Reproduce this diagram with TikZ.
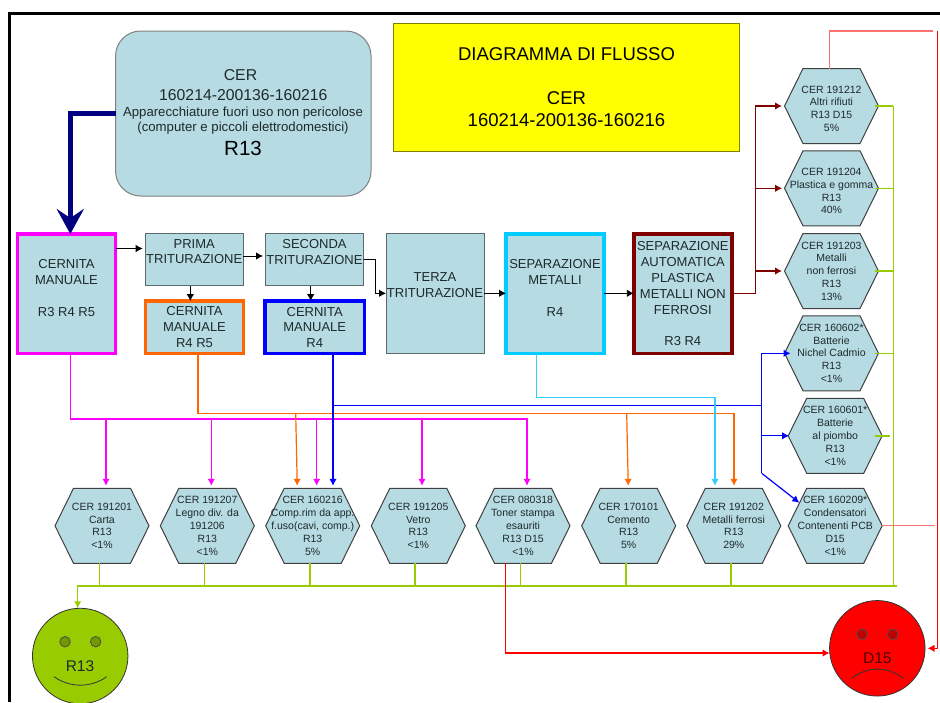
\documentclass[tikz,border=0pt]{standalone}
\usepackage{fontspec}
\usepackage{xcolor}
\usepackage{tikz}
\usetikzlibrary{arrows.meta}
\setmainfont{Liberation Sans}
\definecolor{boxblue}{HTML}{B7DBE3}
\definecolor{boxedge}{HTML}{5A6A6C}
\definecolor{limeln}{HTML}{99CC00}
\definecolor{magentaln}{HTML}{FF00FF}
\definecolor{orangeln}{HTML}{FF6600}
\definecolor{blueln}{HTML}{0000FF}
\definecolor{cyanln}{HTML}{00CCFF}
\definecolor{skyln}{HTML}{33CCFF}
\definecolor{maroonln}{HTML}{800000}
\definecolor{navyln}{HTML}{000080}
\definecolor{redln}{HTML}{FF0000}
\definecolor{pinkln}{HTML}{FF7070}
\definecolor{titlefill}{HTML}{FFFF00}
\definecolor{titleedge}{HTML}{808000}
\definecolor{inktext}{HTML}{1E2A2C}
\newdimen\hexleft
\newdimen\hexright
\newdimen\hextop
\newdimen\hexbottom
\newdimen\hexmid
\makeatletter
\pgfdeclareshape{hexcell}{
    \inheritsavedanchors[from=rectangle]
    \inheritanchorborder[from=rectangle]
    \inheritanchor[from=rectangle]{center}
    \inheritanchor[from=rectangle]{north}
    \inheritanchor[from=rectangle]{south}
    \inheritanchor[from=rectangle]{east}
    \inheritanchor[from=rectangle]{west}
    \backgroundpath{
        \southwest \hexleft=\pgf@x \hexbottom=\pgf@y
        \northeast \hexright=\pgf@x \hextop=\pgf@y
        \hexmid=.5\hextop \advance\hexmid by .5\hexbottom
        \pgfpathmoveto{\pgfqpoint{\hexleft}{\hexmid}}
        \pgfpathlineto{\pgfqpoint{\dimexpr\hexleft+18.5pt}{\hextop}}
        \pgfpathlineto{\pgfqpoint{\dimexpr\hexright-18.5pt}{\hextop}}
        \pgfpathlineto{\pgfqpoint{\hexright}{\hexmid}}
        \pgfpathlineto{\pgfqpoint{\dimexpr\hexright-18.5pt}{\hexbottom}}
        \pgfpathlineto{\pgfqpoint{\dimexpr\hexleft+18.5pt}{\hexbottom}}
        \pgfpathclose
    }
}
\makeatother
\tikzset{
    stepbox/.style={rectangle,draw=boxedge,line width=1pt,fill=boxblue,text=inktext,inner sep=0pt,outer sep=0pt,
        align=center,font=\fontsize{13}{15.8}\selectfont},
    hexbox/.style={hexcell,draw=black!75,line width=1pt,fill=boxblue,text=inktext,inner sep=0pt,outer sep=0pt,
        minimum width=94pt,minimum height=75pt,align=center,font=\fontsize{10.5}{12.8}\selectfont},
    flow/.style={-{Latex[length=7pt,width=7.5pt]},shorten >=2.5pt},
    smiley/.style={circle,draw=black!80,line width=0.8pt,minimum size=95.5pt,inner sep=0pt,outer sep=0pt},
    eye/.style={circle,draw=black!70,line width=0.8pt,minimum size=10.5pt,inner sep=0pt},
}
\begin{document}
\begin{tikzpicture}[x=1pt,y=-1pt]
        \useasboundingbox (0,0) rectangle (940,702);
        % Frame
        \draw[line width=3pt] (9.5,702) -- (9.5,13.5) -- (940,13.5);

        % Title and input
        \node[rectangle,draw=titleedge,line width=1pt,fill=titlefill,minimum width=346pt,minimum height=127.5pt,
            align=center,font=\fontsize{18.5}{22}\selectfont] (title) at (566.5,87.3)
            {DIAGRAMMA DI FLUSSO\\[0pt]~\\CER\\160214-200136-160216};
        \node[stepbox,rounded corners=25pt,draw=gray,minimum width=255.5pt,minimum height=165pt] (input) at (243.3,113.5) {};
        \node[text=inktext,font=\fontsize{15.75}{19}\selectfont] (inputa) at (240.5,75.5) {CER};
        \node[text=inktext,font=\fontsize{15.75}{19}\selectfont] (inputb) at (243.3,95) {160214-200136-160216};
        \node[text=inktext,align=center,font=\fontsize{13.2}{15.6}\selectfont] (inputc) at (243,120.5)
            {Apparecchiature fuori uso non pericolose\\(computer e piccoli elettrodomestici)};
        \node[text=black,font=\fontsize{20.5}{24}\selectfont] (inputd) at (243,148.5) {R13};

        % Process boxes
        \node[stepbox,draw=magentaln,line width=3.5pt,minimum width=98pt,minimum height=119.5pt] (cm1) at (66.5,293.8)
            {CERNITA\\MANUALE\\~\\R3 R4 R5\\[-4pt]~};
        \node[stepbox,minimum width=98pt,minimum height=52.5pt] (tri1) at (194.2,259.5) {PRIMA\\TRITURAZIONE\\~};
        \node[stepbox,minimum width=98pt,minimum height=52.5pt] (tri2) at (314.5,259.5) {SECONDA\\TRITURAZIONE\\~};
        \node[stepbox,draw=orangeln,line width=3.5pt,minimum width=98pt,minimum height=52.5pt] (cm2) at (194.5,327.3)
            {CERNITA\\MANUALE\\R4 R5};
        \node[stepbox,draw=blueln,line width=3.5pt,minimum width=99.5pt,minimum height=52.5pt] (cm3) at (314.7,327.3)
            {CERNITA\\MANUALE\\R4};
        \node[stepbox,minimum width=98pt,minimum height=120pt] (tri3) at (435,293.3) {TERZA\\TRITURAZIONE\\~};
        \node[stepbox,draw=cyanln,line width=3.5pt,minimum width=98pt,minimum height=119.5pt] (sep1) at (555,293.8)
            {SEPARAZIONE\\METALLI\\~\\R4\\[-4pt]~};
        \node[stepbox,draw=maroonln,line width=3.5pt,minimum width=98pt,minimum height=119.5pt] (sep2) at (682.8,293.8)
            {SEPARAZIONE\\AUTOMATICA\\PLASTICA\\METALLI NON\\FERROSI\\~\\R3 R4};

        % Output codes, right column
        \node[hexbox] (hr1) at (831.5,106) {~\\CER 191212\\Altri rifiuti\\R13 D15\\5\%};
        \node[hexbox] (hr2) at (831.5,188.3) {~\\CER 191204\\Plastica e gomma\\R13\\40\%};
        \node[hexbox] (hr3) at (831.5,271) {CER 191203\\Metalli\\non ferrosi\\R13\\13\%};
        \node[hexbox] (hr4) at (831.5,353.3) {CER 160602*\\Batterie\\Nichel Cadmio\\R13\\<1\%};
        \node[hexbox] (hr5) at (835.2,435.8) {CER 160601*\\Batterie\\al piombo\\R13\\<1\%};
        \node[hexbox] (hr6) at (835.2,525.8) {CER 160209*\\Condensatori\\Contenenti PCB\\D15\\<1\%};

        % Output codes, bottom row
        \node[hexbox] (hb1) at (102,525.8) {CER 191201\\Carta\\R13\\<1\%};
        \node[hexbox] (hb2) at (207.3,525.8) {CER 191207\\Legno div. da\\191206\\R13\\<1\%};
        \node[hexbox] (hb3) at (312.7,525.8) {CER 160216\\Comp.rim da app.\\f.uso(cavi, comp.)\\R13\\5\%};
        \node[hexbox] (hb4) at (418.3,525.8) {CER 191205\\Vetro\\R13\\<1\%};
        \node[hexbox] (hb5) at (523,525.8) {CER 080318\\Toner stampa\\esauriti\\R13 D15\\<1\%};
        \node[hexbox] (hb6) at (628.7,525.8) {CER 170101\\Cemento\\R13\\5\%};
        \node[hexbox] (hb7) at (733.8,525.8) {CER 191202\\Metalli ferrosi\\R13\\29\%};

        % Faces
        \node[smiley,fill=limeln] (good) at (80.2,656) {};
        \node[eye,fill=limeln!75!black] (gooda) at (65,641.7) {};
        \node[eye,fill=limeln!75!black] (goodb) at (95.7,641.7) {};
        \node[text=inktext,font=\fontsize{15.5}{18}\selectfont] (goodt) at (80,665.7) {R13};
        \draw[line width=0.8pt,draw=black!80] (54,676.7) .. controls (70,688) and (91,688) .. (106.7,676.7);
        \node[smiley,fill=redln] (bad) at (877.3,648.3) {};
        \node[eye,fill=redln!75!black] (bada) at (862,634.3) {};
        \node[eye,fill=redln!75!black] (badb) at (892.7,634.3) {};
        \node[text=black!70!redln,font=\fontsize{15.5}{18}\selectfont] (badt) at (877.3,658.3) {D15};
        \draw[line width=0.8pt,draw=black!80] (851.7,678.3) .. controls (868,666) and (887,666) .. (903.3,678.3);

        % Main flow
        \draw[navyln,line width=4.5pt,-{Stealth[length=25pt,width=27pt,inset=9pt]}] (input.west) -- (70.3,113.5) -- (70.3,0 |- cm1.north);
        \draw[flow,line width=0.9pt] (cm1.east |- 0,248.5) -- (tri1.west |- 0,248.5);
        \draw[flow,line width=0.9pt] (tri1.east |- 0,256) -- (tri2.west |- 0,256);
        \draw[flow,line width=0.9pt,shorten >=0pt] (tri2.east |- 0,259.3) -- (375,259.3) -- (375,293.3) -- (tri3.west |- 0,293.3);
        \draw[flow,line width=0.9pt,shorten >=0pt] (190.3,0 |- tri1.south) -- (190.3,0 |- cm2.north);
        \draw[flow,line width=0.9pt,shorten >=0pt] (310.7,0 |- tri2.south) -- (310.7,0 |- cm3.north);
        \draw[flow,line width=0.9pt,shorten >=0pt] (tri3.east |- 0,293.3) -- (sep1.west |- 0,293.3);
        \draw[flow,line width=0.9pt,shorten >=0pt] (sep1.east |- 0,293.3) -- (sep2.west |- 0,293.3);

        % Plastic and metal outputs
        \draw[flow,draw=maroonln,line width=1.3pt] (sep2.east |- 0,293.3) -- (755.7,293.3) -- (755.7,106) -- (hr1.west);
        \draw[flow,draw=maroonln,line width=1pt] (755.7,188.3) -- (hr2.west);
        \draw[flow,draw=maroonln,line width=1.3pt] (755.7,271) -- (hr3.west);

        % Sorting outputs
        \draw[flow,draw=magentaln,line width=1.4pt] (70.3,0 |- cm1.south) -- (70.3,419) -- (527,419) -- (527,0 |- hb5.north);
        \draw[flow,draw=magentaln,line width=1.3pt] (106,419) -- (106,0 |- hb1.north);
        \draw[flow,draw=magentaln,line width=1.3pt] (211.3,419) -- (211.3,0 |- hb2.north);
        \draw[flow,draw=magentaln,line width=1.3pt] (316.7,419) -- (316.7,0 |- hb3.north);
        \draw[flow,draw=magentaln,line width=1.3pt] (422,419) -- (422,0 |- hb4.north);
        \draw[flow,draw=orangeln,line width=1.2pt] (198,0 |- cm2.south) -- (198,413.3) -- (734,413.3) -- (734,0 |- hb7.north);
        \draw[flow,draw=orangeln,line width=1.2pt] (295.7,413.3) -- (297.3,0 |- hb3.north);
        \draw[flow,draw=orangeln,line width=1.2pt] (626.7,413.3) -- (628.3,0 |- hb6.north);
        \draw[flow,draw=blueln,line width=1.2pt] (333,0 |- cm3.south) -- (333,0 |- hb3.north);
        \draw[draw=blueln,line width=1pt] (333,405.3) -- (761.7,405.3);
        \draw[flow,draw=blueln,line width=1.2pt,shorten >=-6pt] (761.7,473.3) -- (761.7,353.3) -- (hr4.west);
        \draw[flow,draw=blueln,line width=1.3pt,shorten >=-1pt] (761.7,435.8) -- (hr5.west);
        \draw[flow,draw=blueln,line width=1.2pt,shorten >=0pt] (761.7,473.3) -- (799.3,502.7);
        \draw[flow,draw=skyln,line width=1.2pt] (536.3,0 |- sep1.south) -- (536.3,397.7) -- (715,397.7) -- (715,0 |- hb7.north);

        % Recovery outputs
        \draw[draw=limeln,line width=1.1pt] (893.3,106) -- (893.3,586);
        \draw[draw=limeln,line width=1.1pt,shorten <=-3.5pt] (hr1.east) -- (893.3,106);
        \draw[draw=limeln,line width=1.1pt,shorten <=-3.5pt] (hr2.east) -- (893.3,188.3);
        \draw[draw=limeln,line width=1.1pt,shorten <=-3.5pt] (hr3.east) -- (893.3,271);
        \draw[draw=limeln,line width=1.1pt,shorten <=-3.5pt] (hr4.east) -- (893.3,353.3);
        \draw[draw=limeln,line width=1.5pt,shorten <=-7.5pt,shorten >=3.5pt] (hr5.east) -- (893.3,435.8);
        \draw[draw=limeln,line width=1.1pt] (99.3,0 |- hb1.south) -- (99.3,586);
        \draw[draw=limeln,line width=1.1pt] (204.7,0 |- hb2.south) -- (204.7,586);
        \draw[draw=limeln,line width=1.1pt] (310,0 |- hb3.south) -- (310,586);
        \draw[draw=limeln,line width=1.1pt] (415,0 |- hb4.south) -- (415,586);
        \draw[draw=limeln,line width=1.1pt] (520.7,0 |- hb5.south) -- (520.7,586);
        \draw[draw=limeln,line width=1.1pt] (626,0 |- hb6.south) -- (626,586);
        \draw[draw=limeln,line width=1.1pt] (731,0 |- hb7.south) -- (731,586);
        \draw[flow,draw=limeln,line width=1.3pt,shorten >=0pt] (897.3,586) -- (77.7,586) -- (77.7,0 |- good.north);

        % Disposal outputs
        \draw[draw=pinkln,line width=1.2pt] (829.3,0 |- hr1.north) -- (829.3,31) -- (932.7,31);
        \coordinate (railtop) at (937.3,31);
        \draw[flow,draw=redln,line width=1.2pt] (railtop) -- (937.3,648.3) -- (bad.east);
        \draw[draw=pinkln,line width=1.1pt] (hr6.east) -- (935,525.8);
        \draw[flow,draw=redln,line width=1.1pt,shorten >=0pt] (505.7,0 |- hb5.south) -- (505.7,653) -- (bad.west |- 0,653);
\end{tikzpicture}
\end{document}
